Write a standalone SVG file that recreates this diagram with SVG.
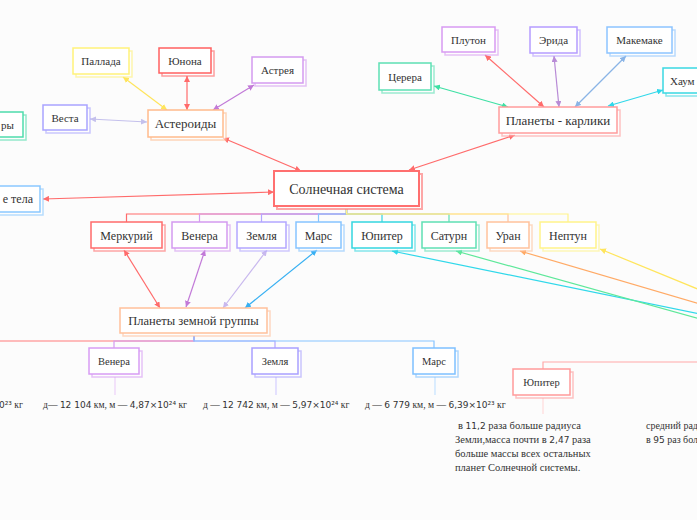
<svg xmlns="http://www.w3.org/2000/svg" width="697" height="520" viewBox="0 0 697 520" font-family="'Liberation Serif','DejaVu Serif',serif">
<style>
text{font-family:'Liberation Serif','DejaVu Serif',serif;fill:#333;}
.c{text-anchor:middle;}
.f{fill:#fff;stroke-width:1.5;}
.b{fill:#fff;stroke-width:1.5;opacity:0.6;}
tspan.n{font-family:'DejaVu Sans','Noto Sans',sans-serif;font-size:9px;}
.d{font-size:9.6px;}
.j{font-size:10.5px;}
.r{font-size:10px;}
.l{fill:none;stroke-width:1.2;}
</style>
<defs>
<marker id="mR" viewBox="0 0 6 6" refX="6" refY="3" markerWidth="6" markerHeight="6" markerUnits="userSpaceOnUse" orient="auto-start-reverse"><path d="M0,0L6,3L0,6z" fill="#ff6b6b"/></marker>
<marker id="mY" viewBox="0 0 6 6" refX="6" refY="3" markerWidth="6" markerHeight="6" markerUnits="userSpaceOnUse" orient="auto-start-reverse"><path d="M0,0L6,3L0,6z" fill="#ffe55c"/></marker>
<marker id="mP" viewBox="0 0 6 6" refX="6" refY="3" markerWidth="6" markerHeight="6" markerUnits="userSpaceOnUse" orient="auto-start-reverse"><path d="M0,0L6,3L0,6z" fill="#c27ad8"/></marker>
<marker id="mL" viewBox="0 0 6 6" refX="6" refY="3" markerWidth="6" markerHeight="6" markerUnits="userSpaceOnUse" orient="auto-start-reverse"><path d="M0,0L6,3L0,6z" fill="#c4c0ec"/></marker>
<marker id="mG" viewBox="0 0 6 6" refX="6" refY="3" markerWidth="6" markerHeight="6" markerUnits="userSpaceOnUse" orient="auto-start-reverse"><path d="M0,0L6,3L0,6z" fill="#3ee0a4"/></marker>
<marker id="mE" viewBox="0 0 6 6" refX="6" refY="3" markerWidth="6" markerHeight="6" markerUnits="userSpaceOnUse" orient="auto-start-reverse"><path d="M0,0L6,3L0,6z" fill="#b88ad6"/></marker>
<marker id="mB" viewBox="0 0 6 6" refX="6" refY="3" markerWidth="6" markerHeight="6" markerUnits="userSpaceOnUse" orient="auto-start-reverse"><path d="M0,0L6,3L0,6z" fill="#8ab4e6"/></marker>
<marker id="mC" viewBox="0 0 6 6" refX="6" refY="3" markerWidth="6" markerHeight="6" markerUnits="userSpaceOnUse" orient="auto-start-reverse"><path d="M0,0L6,3L0,6z" fill="#30d8ea"/></marker>
<marker id="mM" viewBox="0 0 6 6" refX="6" refY="3" markerWidth="6" markerHeight="6" markerUnits="userSpaceOnUse" orient="auto-start-reverse"><path d="M0,0L6,3L0,6z" fill="#38b0f2"/></marker>
<marker id="mO" viewBox="0 0 6 6" refX="6" refY="3" markerWidth="6" markerHeight="6" markerUnits="userSpaceOnUse" orient="auto-start-reverse"><path d="M0,0L6,3L0,6z" fill="#ffaa66"/></marker>
<marker id="mS" viewBox="0 0 6 6" refX="6" refY="3" markerWidth="6" markerHeight="6" markerUnits="userSpaceOnUse" orient="auto-start-reverse"><path d="M0,0L6,3L0,6z" fill="#5ee89a"/></marker>
<marker id="mZ" viewBox="0 0 6 6" refX="6" refY="3" markerWidth="6" markerHeight="6" markerUnits="userSpaceOnUse" orient="auto-start-reverse"><path d="M0,0L6,3L0,6z" fill="#c8b8ee"/></marker>
</defs>
<rect x="0" y="0" width="697" height="520" fill="#fcfcfc"/>

<g id="connectors">
<path class="l" stroke="#ff6b6b" d="M346.5,209V214H126.5V222"/>
<path class="l" stroke="#d49af0" d="M346.5,209V214H199.5V222"/>
<path class="l" stroke="#b3a6ff" d="M346.5,209V214H261.5V222"/>
<path class="l" stroke="#86c4ff" d="M346.5,209V214H318.5V222"/>
<path class="l" stroke="#35d6e0" d="M346.5,209V214H382V222"/>
<path class="l" stroke="#5fe0b4" d="M346.5,209V214H449V222"/>
<path class="l" stroke="#ffc29c" d="M346.5,209V214H508V222"/>
<path class="l" stroke="#fff38a" d="M346.5,209V214H568V222"/>
<line class="l" stroke="#ff6b6b" x1="301" y1="171" x2="223" y2="138" marker-start="url(#mR)" marker-end="url(#mR)"/>
<line class="l" stroke="#ff6b6b" x1="409" y1="170" x2="515" y2="135" marker-start="url(#mR)" marker-end="url(#mR)"/>
<line class="l" stroke="#ff6b6b" x1="274" y1="192" x2="43" y2="199" marker-start="url(#mR)" marker-end="url(#mR)"/>
<line class="l" stroke="#ffe55c" x1="123" y1="77" x2="167" y2="110" marker-start="url(#mY)" marker-end="url(#mY)"/>
<line class="l" stroke="#ff6b6b" x1="187" y1="76" x2="187" y2="110" marker-start="url(#mR)" marker-end="url(#mR)"/>
<line class="l" stroke="#c27ad8" x1="254" y1="85" x2="213" y2="110" marker-start="url(#mP)" marker-end="url(#mP)"/>
<line class="l" stroke="#c4c0ec" x1="90" y1="119" x2="147" y2="122" marker-start="url(#mL)" marker-end="url(#mL)"/>
<line class="l" stroke="#3ee0a4" x1="434" y1="86" x2="508" y2="107" marker-start="url(#mG)" marker-end="url(#mG)"/>
<line class="l" stroke="#ff6b6b" x1="485" y1="55" x2="544" y2="107" marker-start="url(#mR)" marker-end="url(#mR)"/>
<line class="l" stroke="#b88ad6" x1="554" y1="56" x2="559" y2="107" marker-start="url(#mE)" marker-end="url(#mE)"/>
<line class="l" stroke="#8ab4e6" x1="626" y1="56" x2="575" y2="107" marker-start="url(#mB)" marker-end="url(#mB)"/>
<line class="l" stroke="#30d8ea" x1="663" y1="90" x2="608" y2="106" marker-start="url(#mC)" marker-end="url(#mC)"/>
<line class="l" stroke="#ff6b6b" x1="160" y1="308" x2="124" y2="250" marker-start="url(#mR)" marker-end="url(#mR)"/>
<line class="l" stroke="#c27ad8" x1="186" y1="307" x2="205" y2="250" marker-start="url(#mP)" marker-end="url(#mP)"/>
<line class="l" stroke="#c8b8ee" x1="223" y1="308" x2="267" y2="250" marker-start="url(#mZ)" marker-end="url(#mZ)"/>
<line class="l" stroke="#38b0f2" x1="245" y1="308" x2="317" y2="250" marker-start="url(#mM)" marker-end="url(#mM)"/>
<line class="l" stroke="#30d8ea" x1="392" y1="251" x2="700" y2="314" marker-start="url(#mC)"/>
<line class="l" stroke="#5ee89a" x1="456" y1="251" x2="700" y2="319" marker-start="url(#mS)"/>
<line class="l" stroke="#ffaa66" x1="520" y1="251" x2="700" y2="304" marker-start="url(#mO)"/>
<line class="l" stroke="#ffe55c" x1="600" y1="249" x2="700" y2="290" marker-start="url(#mY)"/>
<path class="l" stroke="#ff7b7b" d="M194,336V341H-5"/>
<path class="l" stroke="#d49af0" d="M194,336V341H114V348"/>
<path class="l" stroke="#b3a6ff" d="M194,336V341H275V348"/>
<path class="l" stroke="#86c4ff" d="M194,336V341H434V348"/>
<path class="l" stroke="#ffa8a8" d="M700,362H543V369"/>
<line class="l" stroke="#ecd0f8" x1="115" y1="377" x2="115" y2="395"/>
<line class="l" stroke="#d4ceff" x1="276" y1="377" x2="276" y2="395"/>
<line class="l" stroke="#c4e2ff" x1="435" y1="377" x2="435" y2="395"/>
<line class="l" stroke="#ffdada" x1="543" y1="398" x2="543" y2="414"/>
</g>

<g id="main"><rect class="b" stroke="#ff7070" x="277" y="174" width="145" height="35" style="stroke-width:2"/><rect class="f" stroke="#ff7070" x="274" y="171" width="145" height="35" style="stroke-width:2"/><text class="c" x="346.5" y="193.5" font-size="14">Солнечная система</text></g>

<g id="asteroids"><rect class="b" stroke="#ffbb8c" x="151" y="113" width="75" height="27"/><rect class="f" stroke="#ffbb8c" x="148" y="110" width="75" height="27"/><text class="c" x="185.5" y="128" font-size="13">Астероиды</text></g>
<g id="pallada"><rect class="b" stroke="#fff27a" x="76" y="51" width="56" height="26"/><rect class="f" stroke="#fff27a" x="73" y="48" width="56" height="26"/><text class="c" x="101" y="65" font-size="11">Паллада</text></g>
<g id="juno"><rect class="b" stroke="#ff6060" x="162" y="51" width="52" height="25"/><rect class="f" stroke="#ff6060" x="159" y="48" width="52" height="25"/><text class="c" x="185" y="64.5" font-size="11">Юнона</text></g>
<g id="astreya"><rect class="b" stroke="#d49af0" x="255" y="60" width="51" height="26"/><rect class="f" stroke="#d49af0" x="252" y="57" width="51" height="26"/><text class="c" x="277.5" y="74" font-size="11">Астрея</text></g>
<g id="vesta"><rect class="b" stroke="#a9a4ff" x="46" y="108" width="44" height="25"/><rect class="f" stroke="#a9a4ff" x="43" y="105" width="44" height="25"/><text class="c" x="65" y="121.5" font-size="11">Веста</text></g>
<g id="left-green"><rect class="b" stroke="#4edcac" x="-7" y="115" width="33" height="25"/><rect class="f" stroke="#4edcac" x="-10" y="112" width="33" height="25"/><text x="14" y="128.5" font-size="11" text-anchor="end">ры</text></g>
<g id="small-bodies"><rect class="b" stroke="#8ac8ff" x="-7" y="189" width="50" height="26"/><rect class="f" stroke="#8ac8ff" x="-10" y="186" width="50" height="26"/><text x="33" y="203" font-size="12" text-anchor="end">е тела</text></g>

<g id="dwarfs"><rect class="b" stroke="#ff9c9c" x="502" y="110" width="118" height="26"/><rect class="f" stroke="#ff9c9c" x="499" y="107" width="118" height="26"/><text class="c" x="558" y="124.5" font-size="13">Планеты - карлики</text></g>
<g id="pluto"><rect class="b" stroke="#d89af2" x="445" y="30" width="53" height="25"/><rect class="f" stroke="#d89af2" x="442" y="27" width="53" height="25"/><text class="c" x="468.5" y="43.5" font-size="11">Плутон</text></g>
<g id="erida"><rect class="b" stroke="#b59cff" x="533" y="30" width="47" height="26"/><rect class="f" stroke="#b59cff" x="530" y="27" width="47" height="26"/><text class="c" x="553.5" y="44" font-size="11">Эрида</text></g>
<g id="makemake"><rect class="b" stroke="#8cc4ff" x="610" y="30" width="65" height="26"/><rect class="f" stroke="#8cc4ff" x="607" y="27" width="65" height="26"/><text class="c" x="639.5" y="44" font-size="11">Макемаке</text></g>
<g id="cerera"><rect class="b" stroke="#5de0b4" x="382" y="66" width="52" height="27"/><rect class="f" stroke="#5de0b4" x="379" y="63" width="52" height="27"/><text class="c" x="405" y="80.5" font-size="11">Церера</text></g>
<g id="haumea"><rect class="b" stroke="#3ad8e2" x="666" y="71" width="40" height="25"/><rect class="f" stroke="#3ad8e2" x="663" y="68" width="40" height="25"/><text x="670" y="84.5" font-size="11">Хаум</text></g>

<g id="mercury"><rect class="b" stroke="#ff6b6b" x="94" y="225" width="71" height="26"/><rect class="f" stroke="#ff6b6b" x="91" y="222" width="71" height="26"/><text class="c" x="126.5" y="239.5" font-size="12">Меркурий</text></g>
<g id="venus"><rect class="b" stroke="#d49af0" x="175" y="225" width="55" height="26"/><rect class="f" stroke="#d49af0" x="172" y="222" width="55" height="26"/><text class="c" x="199.5" y="239.5" font-size="12">Венера</text></g>
<g id="earth"><rect class="b" stroke="#b3a6ff" x="240" y="225" width="49" height="26"/><rect class="f" stroke="#b3a6ff" x="237" y="222" width="49" height="26"/><text class="c" x="261.5" y="239.5" font-size="12">Земля</text></g>
<g id="mars"><rect class="b" stroke="#86c4ff" x="299" y="225" width="45" height="26"/><rect class="f" stroke="#86c4ff" x="296" y="222" width="45" height="26"/><text class="c" x="318.5" y="239.5" font-size="12">Марс</text></g>
<g id="jupiter"><rect class="b" stroke="#35d6e0" x="355" y="225" width="60" height="26"/><rect class="f" stroke="#35d6e0" x="352" y="222" width="60" height="26"/><text class="c" x="382" y="239.5" font-size="12">Юпитер</text></g>
<g id="saturn"><rect class="b" stroke="#5fe0b4" x="425" y="225" width="54" height="26"/><rect class="f" stroke="#5fe0b4" x="422" y="222" width="54" height="26"/><text class="c" x="449" y="239.5" font-size="12">Сатурн</text></g>
<g id="uranus"><rect class="b" stroke="#ffc29c" x="490" y="225" width="42" height="26"/><rect class="f" stroke="#ffc29c" x="487" y="222" width="42" height="26"/><text class="c" x="508" y="239.5" font-size="12">Уран</text></g>
<g id="neptune"><rect class="b" stroke="#fff38a" x="543" y="225" width="56" height="26"/><rect class="f" stroke="#fff38a" x="540" y="222" width="56" height="26"/><text class="c" x="568" y="239.5" font-size="12">Нептун</text></g>

<g id="terrestrial"><rect class="b" stroke="#ffc09a" x="123" y="311" width="147" height="25"/><rect class="f" stroke="#ffc09a" x="120" y="308" width="147" height="25"/><text class="c" x="193.5" y="325" font-size="12.5">Планеты земной группы</text></g>

<g id="venus-b"><rect class="b" stroke="#d79cf4" x="92" y="351" width="50" height="26"/><rect class="f" stroke="#d79cf4" x="89" y="348" width="50" height="26"/><text class="c" x="114" y="364.5" font-size="10.5">Венера</text></g>
<g id="earth-b"><rect class="b" stroke="#a9a0ff" x="255" y="351" width="46" height="26"/><rect class="f" stroke="#a9a0ff" x="252" y="348" width="46" height="26"/><text class="c" x="275" y="364.5" font-size="10.5">Земля</text></g>
<g id="mars-b"><rect class="b" stroke="#7ec0ff" x="416" y="351" width="42" height="26"/><rect class="f" stroke="#7ec0ff" x="413" y="348" width="42" height="26"/><text class="c" x="434" y="364.5" font-size="10.5">Марс</text></g>
<g id="jupiter-b"><rect class="b" stroke="#ff9a9a" x="516" y="372" width="57" height="26"/><rect class="f" stroke="#ff9a9a" x="513" y="369" width="57" height="26"/><text class="c" x="541.5" y="385.5" font-size="10.5">Юпитер</text></g>

<g id="data">
<text class="d" x="-1" y="408"><tspan class="n">0²³</tspan> кг</text>
<text class="d" x="43" y="408">д— <tspan class="n">12 104</tspan> км, м — <tspan class="n">4,87×10²⁴</tspan> кг</text>
<text class="d" x="203" y="408">д — <tspan class="n">12 742</tspan> км, м — <tspan class="n">5,97×10²⁴</tspan> кг</text>
<text class="d" x="365" y="408">д — <tspan class="n">6 779</tspan> км, м — <tspan class="n">6,39×10²³</tspan> кг</text>
<text class="j" x="458" y="429">в <tspan class="n">11,2</tspan> раза больше радиуса</text>
<text class="j" x="455" y="443">Земли,масса почти в <tspan class="n">2,47</tspan> раза</text>
<text class="j" x="455" y="457">больше массы всех остальных</text>
<text class="j" x="455" y="471">планет Солнечной системы.</text>
<text class="r" x="646" y="429">средний рад</text>
<text class="r" x="646" y="443">в <tspan class="n">95</tspan> раз бол</text>
</g>
</svg>
